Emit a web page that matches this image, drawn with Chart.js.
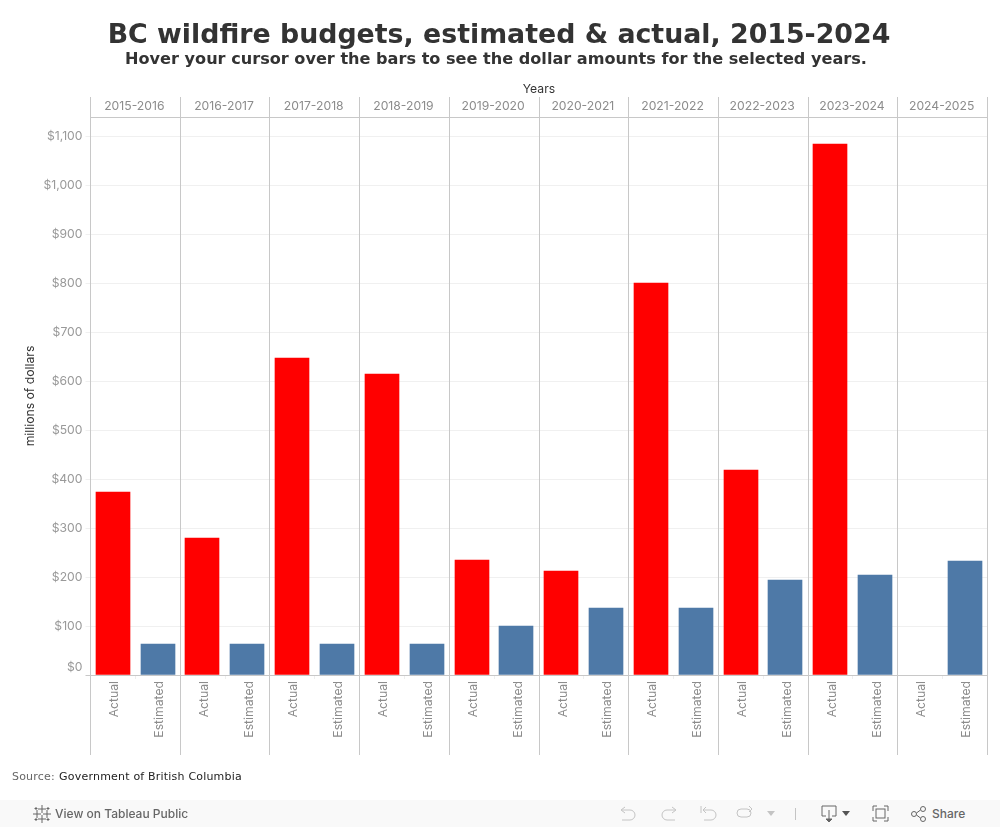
<!DOCTYPE html>
<html>
<head>
<meta charset="utf-8">
<title>BC wildfire budgets</title>
<script src="https://cdn.jsdelivr.net/npm/chart.js@4"></script>
<style>
  html, body { margin: 0; padding: 0; background: #fff; overflow: hidden; }
  #wrap { position: relative; width: 1000px; height: 827px; }
  #chart { position: absolute; left: 0; top: 0; }
  .head { position: absolute; left: 0; width: 1000px; text-align: center; color: #333; font-family: "DejaVu Sans", sans-serif; font-weight: bold; white-space: nowrap; }
  #title { top: 16px; left: -1px; font-size: 26.8px; line-height: 36px; }
  #subtitle { top: 49px; left: -4px; font-size: 16.13px; line-height: 20px; }
  #source { position: absolute; left: 12px; top: 770px; font: 11px "DejaVu Sans", sans-serif; color: #666; letter-spacing: .2px; white-space: nowrap; }
  #source b { font-weight: normal; color: #222; margin-left: .5px; }
  #bar { position: absolute; left: 0; top: 800px; width: 1000px; height: 27px; background: #f9f9f9; }
  #bar span { position: absolute; top: 6px; font: 500 12px/16px Inter, sans-serif; color: #666; white-space: nowrap; }
  #bar svg { position: absolute; left: 0; top: 0; }
</style>
</head>
<body>
<div id="wrap">
  <canvas id="chart" width="1000" height="800"></canvas>
  <div class="head" id="title">BC wildfire budgets, estimated &amp; actual, 2015-2024</div>
  <div class="head" id="subtitle">Hover your cursor over the bars to see the dollar amounts for the selected years.</div>
  <div id="source">Source: <b>Government of British Columbia</b></div>
  <div id="bar">
    <svg width="1000" height="27" fill="none" stroke-width="1">
      <g stroke="#666">
        <path d="M42 5v8M38 9h8M42 15v8M38 19h8M33 14h8M37 10v8M43 14h8M47 10v8M36 7v3M34.500 8.500h3M48 7v3M46.500 8.500h3M36 18v3M34.500 19.500h3M48 18v3M46.500 19.500h3"/>
      </g>
      <g stroke="#c4c4c4">
        <path d="M622 10h8a5 5 0 0 1 0 10h-8M625 7l-4 3 4 3"/>
        <path d="M675 10h-8a5 5 0 0 0 0 10h8M672 7l4 3-4 3"/>
        <path d="M704 10h7a5 5 0 0 1 0 10h-7M706 7l-3 3 3 3M701 6v7"/>
        <rect x="737" y="9" width="14" height="8" rx="4"/><path d="M749 6l3 3-3 3"/>
        <path d="M795.500 8v12"/>
      </g>
      <path d="M767 11h8l-4 5z" fill="#c4c4c4"/>
      <g stroke="#666">
        <path d="M826 16h-4V6h14v10h-4M829 10v9"/>
        <path d="M829 22l-3-3h6z" fill="#666"/>
        <path d="M873 11V6h4M884 6h4v5M888 17v4h-4M877 21h-4v-4"/>
        <rect x="876" y="9" width="9" height="9"/>
        <circle cx="914" cy="14" r="2.500"/><circle cx="923" cy="9" r="2.500"/><circle cx="923" cy="19" r="2.500"/>
        <path d="M916.500 13l4-3M916.500 15l4 3"/>
      </g>
      <path d="M842 11h8l-4 5z" fill="#555"/>
    </svg>
    <span style="left:55px">View on Tableau Public</span>
    <span style="left:932px">Share</span>
  </div>
</div>
<script>
const years = ['2015-2016', '2016-2017', '2017-2018', '2018-2019', '2019-2020', '2020-2021', '2021-2022', '2022-2023', '2023-2024', '2024-2025'];
const measures = ['Actual', 'Estimated'];
const actual = [374, 280, 648, 615, 235, 212, 801, 419, 1084, null];
const estimated = [63, 63, 63, 63, 100, 136, 136, 194, 204, 233];
const yTicks = [0, 100, 200, 300, 400, 500, 600, 700, 800, 900, 1000, 1100];

const LINE = '#c8c8c8';
const FAINT = '#f0f0f0';
const TICK_TEXT = '#8c8c8c';
const FONT = 'Inter, sans-serif';

const panelLines = {
  id: 'panelLines',
  beforeDatasetsDraw(chart) {
    const { ctx, scales: { x2 }, chartArea } = chart;
    // panel dividers run from above the year row down past the labels
    ctx.save();
    ctx.strokeStyle = LINE;
    ctx.lineWidth = 1;
    ctx.beginPath();
    for (let i = 0; i <= years.length; i++) {
      const px = Math.floor(x2.getPixelForValue(i - 0.5)) + 0.5;
      ctx.moveTo(px, chartArea.top - 20);
      ctx.lineTo(px, chartArea.bottom + 80);
    }
    ctx.stroke();
    ctx.restore();
    // snap bars to whole pixels so the edges stay crisp
    chart.getSortedVisibleDatasetMetas().forEach(meta => {
      meta.data.forEach(bar => {
        bar.x = Math.floor(bar.x - bar.width / 2 + 0.3) + bar.width / 2;
        bar.y = Math.round(bar.y);
      });
    });
  }
};

new Chart(document.getElementById('chart'), {
  type: 'bar',
  plugins: [panelLines],
  data: {
    labels: years.flatMap(() => measures),
    datasets: [
      { label: 'Actual', data: actual.flatMap(v => [v, null]), backgroundColor: '#ff0000' },
      { label: 'Estimated', data: estimated.flatMap(v => [null, v]), backgroundColor: '#4e79a7' }
    ]
  },
  options: {
    responsive: false,
    animation: false,
    layout: { padding: { top: 80, right: 12.5, left: 0, bottom: 0 } },
    datasets: { bar: { grouped: false, barThickness: 34 } },
    plugins: { legend: { display: false } },
    scales: {
      x: {
        position: 'bottom',
        afterFit(scale) { scale.height = 125; },
        border: { display: false },
        grid: { offset: true, drawOnChartArea: false, tickColor: '#eeeeee', tickLength: 4 },
        ticks: {
          autoSkip: false, minRotation: 90, maxRotation: 90, padding: 2, labelOffset: 1.5,
          color: TICK_TEXT, font: { family: FONT, size: 12.2 }
        }
      },
      x2: {
        type: 'category',
        labels: years,
        position: 'top',
        afterFit(scale) { scale.height = 37; },
        border: { display: true, color: LINE },
        grid: { display: false, drawTicks: false, offset: true },
        title: {
          display: true, text: 'Years', color: '#333',
          font: { family: FONT, size: 12.2 }, padding: { top: 2, bottom: 0 }
        },
        ticks: { autoSkip: false, maxRotation: 0, padding: 3, labelOffset: -1, color: TICK_TEXT, font: { family: FONT, size: 12.2 } }
      },
      y: {
        min: 0,
        max: 1140,
        afterBuildTicks(scale) { scale.ticks = yTicks.map(value => ({ value })); },
        afterFit(scale) { scale.width = 90.5; },
        border: { display: false },
        grid: {
          color: c => (c.tick && c.tick.value === 0 ? LINE : FAINT),
          tickColor: c => (c.tick && c.tick.value === 0 ? LINE : FAINT),
          tickLength: 5
        },
        title: {
          display: true, text: 'millions of dollars', color: '#333',
          font: { family: FONT, size: 12.2 }, padding: { top: 23, bottom: 0 }
        },
        ticks: {
          padding: 3, color: '#999999', font: { family: FONT, size: 12.2 },
          // the zero label sits above the axis line, a blank second line lifts it
          callback: v => (v === 0 ? ['$0', ''] : '$' + v.toLocaleString('en-US'))
        }
      }
    }
  }
});
</script>
</body>
</html>
